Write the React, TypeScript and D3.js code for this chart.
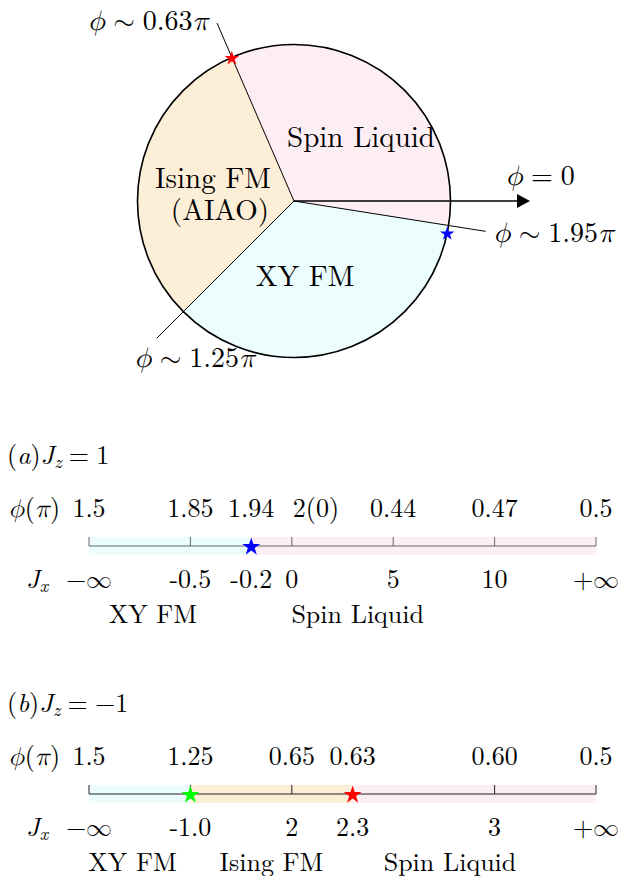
import React from 'react';
import * as d3 from 'd3';

// circle phase diagram: boundaries in units of pi
const boundaries = [0.63, 1.25, 1.95];
const circlePhases = [
  { name: 'Spin Liquid', from: 1.95, to: 2.63, color: '#fdeef4' },
  { name: 'Ising FM', from: 0.63, to: 1.25, color: '#fdeed8' },
  { name: 'XY FM', from: 1.25, to: 1.95, color: '#ecfdfd' },
];
const circleStars = [
  { at: 0.63, color: '#ff0000' },
  { at: 1.935, color: '#0000ff' },
];

// (a) Jz = 1
const slotsA = [0, 1, 1.6, 2, 3, 4, 5];
const phiA = ['1.5', '1.85', '1.94', '2(0)', '0.44', '0.47', '0.5'];
const phiAnchorA = ['middle', 'middle', 'middle', 'start', 'middle', 'middle', 'middle'];
const jxA = ['−∞', '-0.5', '-0.2', '0', '5', '10', '+∞'];
const ticksA = [0, 1, 2, 3, 4, 5];
const bandsA = [
  { from: 0, to: 1.6, color: '#ecfdfd' },
  { from: 1.6, to: 5, color: '#fdeef4' },
];
const namesA = ['XY FM', 'Spin Liquid'];
const namePosA = [0.63, 2.65];
const starsA = [{ at: 1.6, color: '#0000ff' }];

// (b) Jz = -1
const slotsB = [0, 1, 2, 2.6, 4, 5];
const phiB = ['1.5', '1.25', '0.65', '0.63', '0.60', '0.5'];
const phiAnchorB = ['middle', 'middle', 'middle', 'middle', 'middle', 'middle'];
const jxB = ['−∞', '-1.0', '2', '2.3', '3', '+∞'];
const ticksB = [0, 1, 2, 4, 5];
const bandsB = [
  { from: 0, to: 1, color: '#ecfdfd' },
  { from: 1, to: 2.6, color: '#fdeed8' },
  { from: 2.6, to: 5, color: '#fdeef4' },
];
const namesB = ['XY FM', 'Ising FM', 'Spin Liquid'];
const namePosB = [0.43, 1.8, 3.56];
const starsB = [
  { at: 1, color: '#00ff00' },
  { at: 2.6, color: '#ff0000' },
];

const RM = '"Latin Modern Roman", "Liberation Serif", serif';
const SYM = '"Latin Modern Math", "DejaVu Serif", "Liberation Serif", serif';
const cx = 294, cy = 201, R = 156.5, RL = 194;

const polar = (t: number, r: number) => [cx + r * Math.cos(t * Math.PI), cy - r * Math.sin(t * Math.PI)];

// math-ish label: phi <rel> value [pi]
function Phi({ x, y, rel, val, pi, anchor, fs }: any) {
  const sp = fs * 0.278;
  return (
    <text x={x} y={y} textAnchor={anchor} fontSize={fs} style={{ fontFamily: RM }}>
      <tspan fontStyle="italic" style={{ fontFamily: SYM }}>ϕ</tspan>
      <tspan dx={sp} style={{ fontFamily: SYM }}>{rel}</tspan>
      <tspan dx={sp}>{val}</tspan>
      {pi && <tspan fontStyle="italic" style={{ fontFamily: SYM }}>π</tspan>}
    </text>
  );
}

function Jx({ txt, x, y, anchor }: any) {
  // infinity labels go in the symbol font
  if (txt.includes('∞')) {
    return <text x={x} y={y} textAnchor={anchor} fontSize={26} style={{ fontFamily: SYM }}>{txt}</text>;
  }
  return <text x={x} y={y} textAnchor={anchor} fontSize={26} style={{ fontFamily: RM }}>{txt}</text>;
}

function Line1D({ y0, title, jz, slots, phi, phiAnchor, jx, ticks, bands, names, namePos, stars, lineColor }: any) {
  const x = d3.scaleLinear().domain([0, 5]).range([89, 596]);
  const axisY = y0 + 82;
  const star = d3.symbol().type(d3.symbolStar).size(100)();
  const fs = 26;
  const neg = jz.startsWith('−');
  return (
    <g fontSize={fs} style={{ fontFamily: RM }}>
      <text x={7} y={y0}>
        (<tspan fontStyle="italic">{title}</tspan>)<tspan fontStyle="italic">J</tspan>
        <tspan fontSize={18} fontStyle="italic" dy={4}>z</tspan>
        <tspan dy={-4} dx={fs * 0.278}>=</tspan>
        {neg && <tspan dx={fs * 0.278} style={{ fontFamily: SYM }}>−</tspan>}
        <tspan dx={neg ? 0 : fs * 0.278}>{jz.replace('−', '')}</tspan>
      </text>
      <text x={8} y={y0 + 53}>
        <tspan fontStyle="italic" style={{ fontFamily: SYM }}>ϕ</tspan>(<tspan fontStyle="italic" style={{ fontFamily: SYM }}>π</tspan>)
      </text>
      {phi.map((p: string, i: number) => (
        <text key={'p' + i} x={x(slots[i]) + (phiAnchor[i] === 'start' ? 1 : 0)} y={y0 + 53} textAnchor={phiAnchor[i]}>{p}</text>
      ))}
      {bands.map((b: any, i: number) => (
        <rect key={'b' + i} x={x(b.from)} y={axisY - 9} width={x(b.to) - x(b.from)} height={18} fill={b.color} />
      ))}
      <line x1={x(0)} x2={x(5)} y1={axisY} y2={axisY} stroke={lineColor} strokeWidth={1} />
      {ticks.map((t: number) => (
        <line key={'t' + t} x1={x(t)} x2={x(t)} y1={axisY - 9} y2={axisY} stroke={lineColor} strokeWidth={1} />
      ))}
      {stars.map((s: any, i: number) => (
        <path key={'s' + i} d={star as string} transform={`translate(${x(s.at)},${axisY + 1})`} fill={s.color} />
      ))}
      <text x={26} y={y0 + 124}>
        <tspan fontStyle="italic">J</tspan>
        <tspan fontSize={18} fontStyle="italic" dy={4}>x</tspan>
      </text>
      {jx.map((p: string, i: number) => (
        <Jx key={'j' + i} txt={p} x={x(slots[i])} y={y0 + 124} anchor="middle" />
      ))}
      {names.map((n: string, i: number) => (
        <text key={'n' + i} x={x(namePos[i])} y={y0 + 159} textAnchor="middle">{n}</text>
      ))}
    </g>
  );
}

export default function App() {
  const arc = d3.arc<any>().innerRadius(0).outerRadius(R)
    .startAngle(d => Math.PI / 2 - d.to * Math.PI)
    .endAngle(d => Math.PI / 2 - d.from * Math.PI);
  const star = d3.symbol().type(d3.symbolStar).size(64)();
  return (
    <div style={{ position: 'absolute', left: 0, top: 0 }}>
      <svg width={621} height={876} style={{ display: 'block', background: '#fff' }}>
        <g transform={`translate(${cx},${cy})`}>
          {circlePhases.map((p, i) => (
            <path key={i} d={arc(p) as string} fill={p.color} />
          ))}
        </g>
        {boundaries.map((b, i) => {
          const [x2, y2] = polar(b, RL);
          return <line key={i} x1={cx} y1={cy} x2={x2} y2={y2} stroke="#000" strokeWidth={1} />;
        })}
        <circle cx={cx} cy={cy} r={R} fill="none" stroke="#000" strokeWidth={1.6} />
        <line x1={cx} y1={cy} x2={520} y2={cy} stroke="#000" strokeWidth={1.3} />
        <path d={`M530,${cy} L517,${cy - 7} L517,${cy + 7} Z`} fill="#000" />
        {circleStars.map((s, i) => {
          const [sx, sy] = polar(s.at, R);
          return <path key={i} d={star as string} transform={`translate(${sx},${sy + 1})`} fill={s.color} />;
        })}
        <g fontSize={29} style={{ fontFamily: RM }}>
          <text x={361} y={147} textAnchor="middle">Spin Liquid</text>
          <text x={213} y={188} textAnchor="middle">Ising FM</text>
          <text x={220} y={220} textAnchor="middle">(AIAO)</text>
          <text x={305} y={286} textAnchor="middle">XY FM</text>
        </g>
        <Phi x={209} y={30} rel="∼" val="0.63" pi anchor="end" fs={28} />
        <Phi x={540} y={185} rel="=" val="0" anchor="middle" fs={28} />
        <Phi x={493} y={242} rel="∼" val="1.95" pi anchor="start" fs={28} />
        <Phi x={134} y={367} rel="∼" val="1.25" pi anchor="start" fs={28} />
        <Line1D y0={464} title="a" jz="1" slots={slotsA} phi={phiA} phiAnchor={phiAnchorA} jx={jxA} ticks={ticksA}
          bands={bandsA} names={namesA} namePos={namePosA} stars={starsA} lineColor="#666" />
        <Line1D y0={712} title="b" jz="−1" slots={slotsB} phi={phiB} phiAnchor={phiAnchorB} jx={jxB} ticks={ticksB}
          bands={bandsB} names={namesB} namePos={namePosB} stars={starsB} lineColor="#222" />
      </svg>
    </div>
  );
}
